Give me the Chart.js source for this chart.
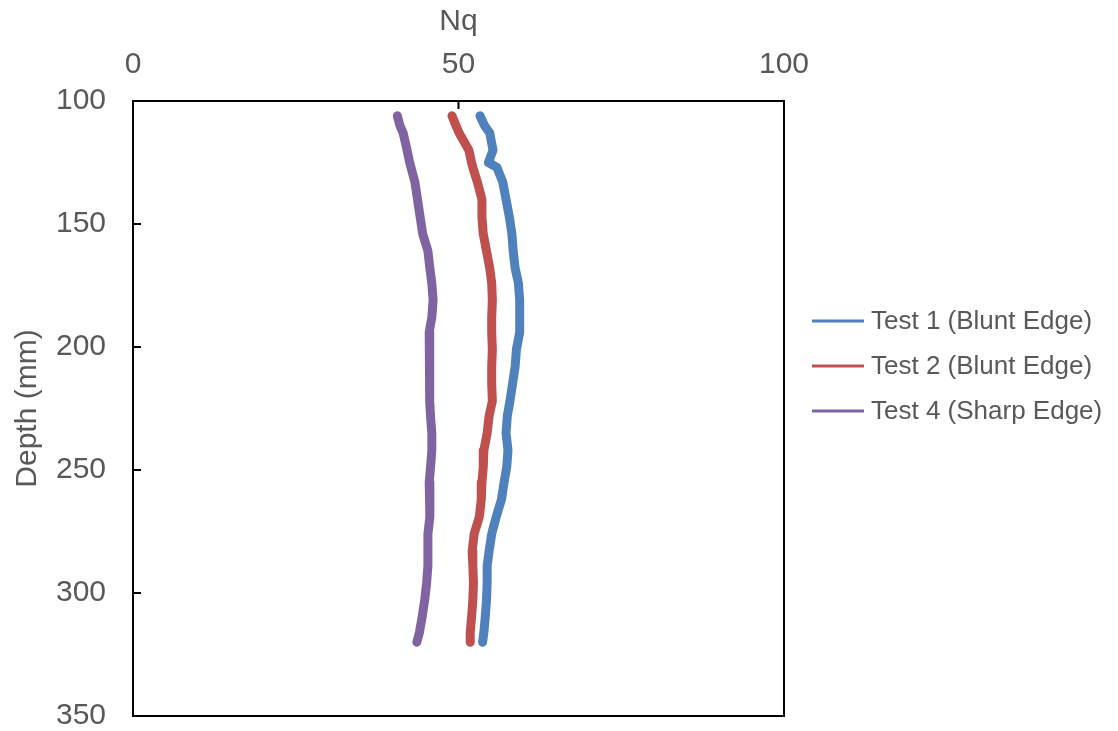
<!DOCTYPE html>
<html>
<head>
<meta charset="utf-8">
<title>Nq vs Depth</title>
<script src="https://cdn.jsdelivr.net/npm/chart.js@4.4.1/dist/chart.umd.min.js"></script>
<style>
    html, body { margin: 0; padding: 0; background: #ffffff; }
    #wrap { width: 1118px; height: 731px; }
</style>
</head>
<body>
<div id="wrap"><canvas id="nqChart" width="1118" height="731"></canvas></div>
<script>
// depth (mm) at which each Nq value was read
const depth = [106, 110, 113, 120, 125, 127, 133, 140, 147, 154, 161, 168, 174, 181, 188, 194, 201, 208,
               215, 222, 228, 235, 242, 249, 255, 262, 269, 276, 283, 289, 296, 303, 310, 316, 320];

const test1 = [53.3, 54.0, 54.8, 55.3, 54.6, 55.9, 56.8, 57.3, 57.8, 58.2, 58.4, 58.7, 59.2, 59.4, 59.4, 59.4, 58.9, 58.7,
               58.3, 57.9, 57.5, 57.3, 57.6, 57.4, 57.0, 56.6, 55.8, 55.1, 54.7, 54.4, 54.4, 54.3, 54.1, 53.9, 53.7];
const test2 = [49.0, 49.6, 50.1, 51.6, 52.0, 52.2, 52.9, 53.6, 53.6, 53.8, 54.3, 54.8, 55.1, 55.2, 55.1, 55.1, 55.2, 55.1,
               55.1, 55.2, 54.7, 54.4, 53.9, 53.8, 53.6, 53.5, 53.2, 52.4, 52.1, 52.2, 52.3, 52.2, 52.0, 51.8, 51.8];
const test4 = [40.6, 41.0, 41.5, 42.1, 42.5, 42.7, 43.3, 43.7, 44.1, 44.5, 45.3, 45.6, 45.9, 46.1, 45.9, 45.5, 45.6, 45.6,
               45.5, 45.6, 45.7, 45.9, 45.9, 45.7, 45.5, 45.6, 45.6, 45.3, 45.3, 45.3, 45.1, 44.8, 44.4, 44.0, 43.6];

const seriesLabels = ['Test 1 (Blunt Edge)', 'Test 2 (Blunt Edge)', 'Test 4 (Sharp Edge)'];
const seriesColors = ['#4F81BD', '#C0504D', '#8064A2'];

const nqTicks = [0, 50, 100];
const depthTicks = [100, 150, 200, 250, 300, 350];

const textColor = '#595959';
const fontFamily = "'Liberation Sans', Arial, sans-serif";

function toPoints(values) {
    return values.map((v, i) => ({ x: v, y: depth[i] }));
}

function makeDataset(label, values, color) {
    return {
        label: label,
        data: toPoints(values),
        borderColor: color,
        backgroundColor: color,
        borderWidth: 9,
        borderCapStyle: 'round',
        borderJoinStyle: 'round',
        showLine: true,
        pointRadius: 0,
        tension: 0
    };
}

// frame round the plot area plus short inside tick marks
const framePlugin = {
    id: 'frame',
    afterDraw(chart) {
        const ctx = chart.ctx;
        const area = chart.chartArea;
        const xs = chart.scales.x;
        const ys = chart.scales.y;
        ctx.save();
        ctx.strokeStyle = '#000000';
        ctx.lineWidth = 2;
        ctx.strokeRect(area.left, area.top, area.right - area.left, area.bottom - area.top);
        ctx.beginPath();
        nqTicks.forEach(v => {
            const px = xs.getPixelForValue(v);
            ctx.moveTo(px, area.top);
            ctx.lineTo(px, area.top + 8);
        });
        depthTicks.forEach(v => {
            const py = ys.getPixelForValue(v);
            ctx.moveTo(area.left, py);
            ctx.lineTo(area.left + 8, py);
        });
        ctx.stroke();
        ctx.restore();
    }
};

// legend to the right of the plot, line sample then label
const legendPlugin = {
    id: 'sideLegend',
    afterDraw(chart) {
        const ctx = chart.ctx;
        const x0 = chart.chartArea.right + 28;
        let y = 321;
        ctx.save();
        ctx.font = '26px ' + fontFamily;
        ctx.textBaseline = 'middle';
        ctx.textAlign = 'left';
        chart.data.datasets.forEach(ds => {
            ctx.strokeStyle = ds.borderColor;
            ctx.lineWidth = 3;
            ctx.beginPath();
            ctx.moveTo(x0, y);
            ctx.lineTo(x0 + 52, y);
            ctx.stroke();
            ctx.fillStyle = textColor;
            ctx.fillText(ds.label, x0 + 59, y + 1);
            y += 45;
        });
        ctx.restore();
    }
};

document.addEventListener('DOMContentLoaded', function() {
    Chart.defaults.font.family = fontFamily;
    Chart.defaults.color = textColor;

    const ctx = document.getElementById('nqChart').getContext('2d');
    const nqChart = new Chart(ctx, {
        type: 'scatter',
        data: {
            datasets: [
                makeDataset(seriesLabels[0], test1, seriesColors[0]),
                makeDataset(seriesLabels[1], test2, seriesColors[1]),
                makeDataset(seriesLabels[2], test4, seriesColors[2])
            ]
        },
        options: {
            responsive: false,
            animation: false,
            devicePixelRatio: 1,
            layout: { padding: { left: 0, top: 0, right: 334, bottom: 15 } },
            plugins: {
                legend: { display: false },
                tooltip: { enabled: false }
            },
            scales: {
                x: {
                    type: 'linear',
                    position: 'top',
                    min: 0,
                    max: 100,
                    afterBuildTicks: scale => { scale.ticks = nqTicks.map(v => ({ value: v })); },
                    afterFit: scale => {
                        scale.height = 101;
                        scale.paddingLeft = 0;
                        scale.paddingRight = 0;
                    },
                    grid: { display: false },
                    border: { display: false },
                    ticks: { font: { size: 30 }, color: textColor, padding: 10, maxRotation: 0 },
                    title: { display: true, text: 'Nq', font: { size: 30 }, color: textColor, padding: { top: 4 } }
                },
                y: {
                    type: 'linear',
                    reverse: true,
                    min: 100,
                    max: 350,
                    afterBuildTicks: scale => { scale.ticks = depthTicks.map(v => ({ value: v })); },
                    afterFit: scale => {
                        scale.width = 133;
                        scale.paddingTop = 0;
                        scale.paddingBottom = 0;
                    },
                    grid: { display: false },
                    border: { display: false },
                    ticks: { font: { size: 30 }, color: textColor, padding: 19 },
                    title: { display: true, text: 'Depth (mm)', font: { size: 30 }, color: textColor, padding: { top: 10 } }
                }
            }
        },
        plugins: [framePlugin, legendPlugin]
    });
});
</script>
</body>
</html>
